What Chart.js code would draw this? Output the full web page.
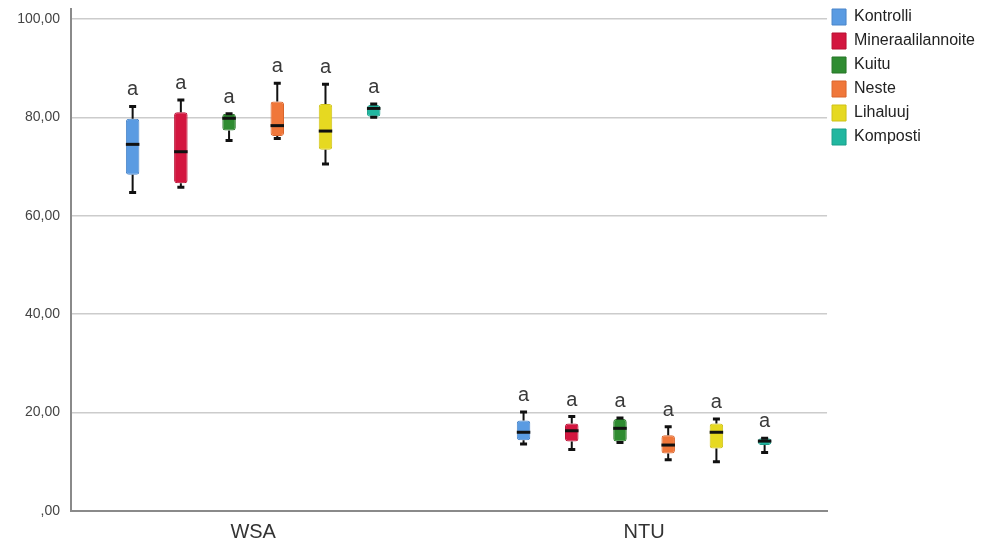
<!DOCTYPE html>
<html>
<head>
<meta charset="utf-8">
<script src="https://cdn.jsdelivr.net/npm/chart.js@4/dist/chart.umd.min.js"></script>
<style>
  html, body { margin: 0; padding: 0; background: #ffffff; }
  #wrap { width: 992px; height: 545px; }
</style>
</head>
<body>
<div id="wrap"><canvas id="chart" width="992" height="545"></canvas></div>
<script>
// Groups along the x axis
const categories = ['WSA', 'NTU'];
const yTicks = [0, 20, 40, 60, 80, 100];

// Treatments (one box per group each)
const seriesNames = ['Kontrolli', 'Mineraalilannoite', 'Kuitu', 'Neste', 'Lihaluuj', 'Komposti'];

// Five-number summaries per treatment, one value per group [WSA, NTU]
const minValues = {
  Kontrolli:         [64.7, 13.6],
  Mineraalilannoite: [65.8, 12.5],
  Kuitu:             [75.3, 13.9],
  Neste:             [75.7, 10.4],
  Lihaluuj:          [70.5, 10.0],
  Komposti:          [80.0, 11.9]
};
const q1Values = {
  Kontrolli:         [68.3, 14.4],
  Mineraalilannoite: [66.6, 14.1],
  Kuitu:             [77.3, 14.1],
  Neste:             [76.2, 11.7],
  Lihaluuj:          [73.4, 12.7],
  Komposti:          [80.1, 13.4]
};
const medianValues = {
  Kontrolli:         [74.5, 16.0],
  Mineraalilannoite: [73.0, 16.3],
  Kuitu:             [79.8, 16.8],
  Neste:             [78.3, 13.4],
  Lihaluuj:          [77.2, 16.0],
  Komposti:          [81.8, 14.2]
};
const q3Values = {
  Kontrolli:         [79.7, 18.4],
  Mineraalilannoite: [81.0, 17.8],
  Kuitu:             [80.7, 18.7],
  Neste:             [83.2, 15.4],
  Lihaluuj:          [82.7, 17.8],
  Komposti:          [82.5, 14.8]
};
const maxValues = {
  Kontrolli:         [82.2, 20.1],
  Mineraalilannoite: [83.5, 19.2],
  Kuitu:             [80.7, 18.9],
  Neste:             [86.9, 17.1],
  Lihaluuj:          [86.7, 18.7],
  Komposti:          [82.7, 14.8]
};

// Significance letters above each box
const groupLetters = {
  Kontrolli:         ['a', 'a'],
  Mineraalilannoite: ['a', 'a'],
  Kuitu:             ['a', 'a'],
  Neste:             ['a', 'a'],
  Lihaluuj:          ['a', 'a'],
  Komposti:          ['a', 'a']
};

const fillColors = {
  Kontrolli: '#5a9be2',
  Mineraalilannoite: '#d3163f',
  Kuitu: '#2f8c31',
  Neste: '#f0773a',
  Lihaluuj: '#e6d921',
  Komposti: '#21b7a0'
};
const edgeColors = {
  Kontrolli: '#4a85c9',
  Mineraalilannoite: '#b80f33',
  Kuitu: '#267526',
  Neste: '#d9652c',
  Lihaluuj: '#cfc218',
  Komposti: '#1a9d89'
};

const FONT = "'Liberation Sans', Arial, sans-serif";

const datasets = seriesNames.map(name => ({
  label: name,
  data: categories.map((c, i) => ({ x: i, y: [q1Values[name][i], q3Values[name][i]] })),
  backgroundColor: fillColors[name],
  borderColor: edgeColors[name],
  borderWidth: 1,
  borderSkipped: false,
  borderRadius: 3,
  barPercentage: 0.28,
  categoryPercentage: 0.74
}));

// Whiskers, caps, median bars and letters drawn on top of each box
const boxPlotExtras = {
  id: 'boxPlotExtras',
  afterLayout(chart) {
    // pull the legend up and in, next to the plot edge
    const lg = chart.legend;
    lg.top -= 8;
    lg.left -= 3;
    lg.right -= 3;
  },
  afterDatasetsDraw(chart) {
    const ctx = chart.ctx;
    const y = chart.scales.y;
    ctx.save();
    chart.data.datasets.forEach((ds, di) => {
      const meta = chart.getDatasetMeta(di);
      if (meta.hidden) return;
      const name = ds.label;
      meta.data.forEach((bar, i) => {
        const cx = bar.x;
        const w = bar.width;
        const pMin = y.getPixelForValue(minValues[name][i]);
        const pQ1 = y.getPixelForValue(q1Values[name][i]);
        const pMed = y.getPixelForValue(medianValues[name][i]);
        const pQ3 = y.getPixelForValue(q3Values[name][i]);
        const pMax = y.getPixelForValue(maxValues[name][i]);
        ctx.strokeStyle = '#111111';
        ctx.lineCap = 'butt';
        // whisker stems
        ctx.lineWidth = 2;
        ctx.beginPath();
        if (pMax < pQ3 - 0.5) { ctx.moveTo(cx, pQ3); ctx.lineTo(cx, pMax); }
        if (pMin > pQ1 + 0.5) { ctx.moveTo(cx, pQ1); ctx.lineTo(cx, pMin); }
        ctx.stroke();
        // caps
        ctx.lineWidth = 3;
        ctx.beginPath();
        ctx.moveTo(cx - 3.5, pMax); ctx.lineTo(cx + 3.5, pMax);
        ctx.moveTo(cx - 3.5, pMin); ctx.lineTo(cx + 3.5, pMin);
        ctx.stroke();
        // median
        ctx.lineWidth = 3;
        ctx.beginPath();
        ctx.moveTo(cx - w / 2, pMed); ctx.lineTo(cx + w / 2, pMed);
        ctx.stroke();
        // letter
        ctx.fillStyle = '#3a3a3a';
        ctx.font = '20px ' + FONT;
        ctx.textAlign = 'center';
        ctx.textBaseline = 'alphabetic';
        ctx.fillText(groupLetters[name][i], cx, pMax - 11);
      });
    });
    ctx.restore();
  }
};

new Chart(document.getElementById('chart'), {
  type: 'bar',
  data: { datasets },
  plugins: [boxPlotExtras],
  options: {
    responsive: false,
    animation: false,
    layout: { padding: { left: 0, top: 9, right: 4, bottom: 0 } },
    plugins: {
      tooltip: { enabled: false },
      legend: {
        position: 'right',
        align: 'start',
        labels: {
          boxWidth: 14,
          boxHeight: 16,
          padding: 8,
          color: '#222222',
          font: { family: FONT, size: 16 }
        }
      }
    },
    scales: {
      x: {
        type: 'linear',
        offset: false,
        min: -0.466,
        max: 1.468,
        afterBuildTicks(scale) {
          scale.ticks = categories.map((c, i) => ({ value: i }));
        },
        afterFit(scale) { scale.height = 34; },
        grid: { display: false, drawTicks: false, offset: false },
        border: { display: true, color: '#8a8a8a', width: 2 },
        ticks: {
          padding: 9,
          color: '#333333',
          font: { family: FONT, size: 20 },
          callback: v => categories[v]
        }
      },
      y: {
        min: 0,
        max: 102,
        afterBuildTicks(scale) {
          scale.ticks = yTicks.map(v => ({ value: v }));
        },
        afterFit(scale) {
          scale.width = 71;
          scale.paddingTop = 0;
        },
        grid: { color: '#cccccc', lineWidth: 1.5, drawTicks: false },
        border: { display: true, color: '#8a8a8a', width: 2 },
        ticks: {
          padding: 11,
          color: '#444444',
          font: { family: FONT, size: 14 },
          callback: v => v === 0 ? ',00' : v.toFixed(2).replace('.', ',')
        }
      }
    }
  }
});
</script>
</body>
</html>
